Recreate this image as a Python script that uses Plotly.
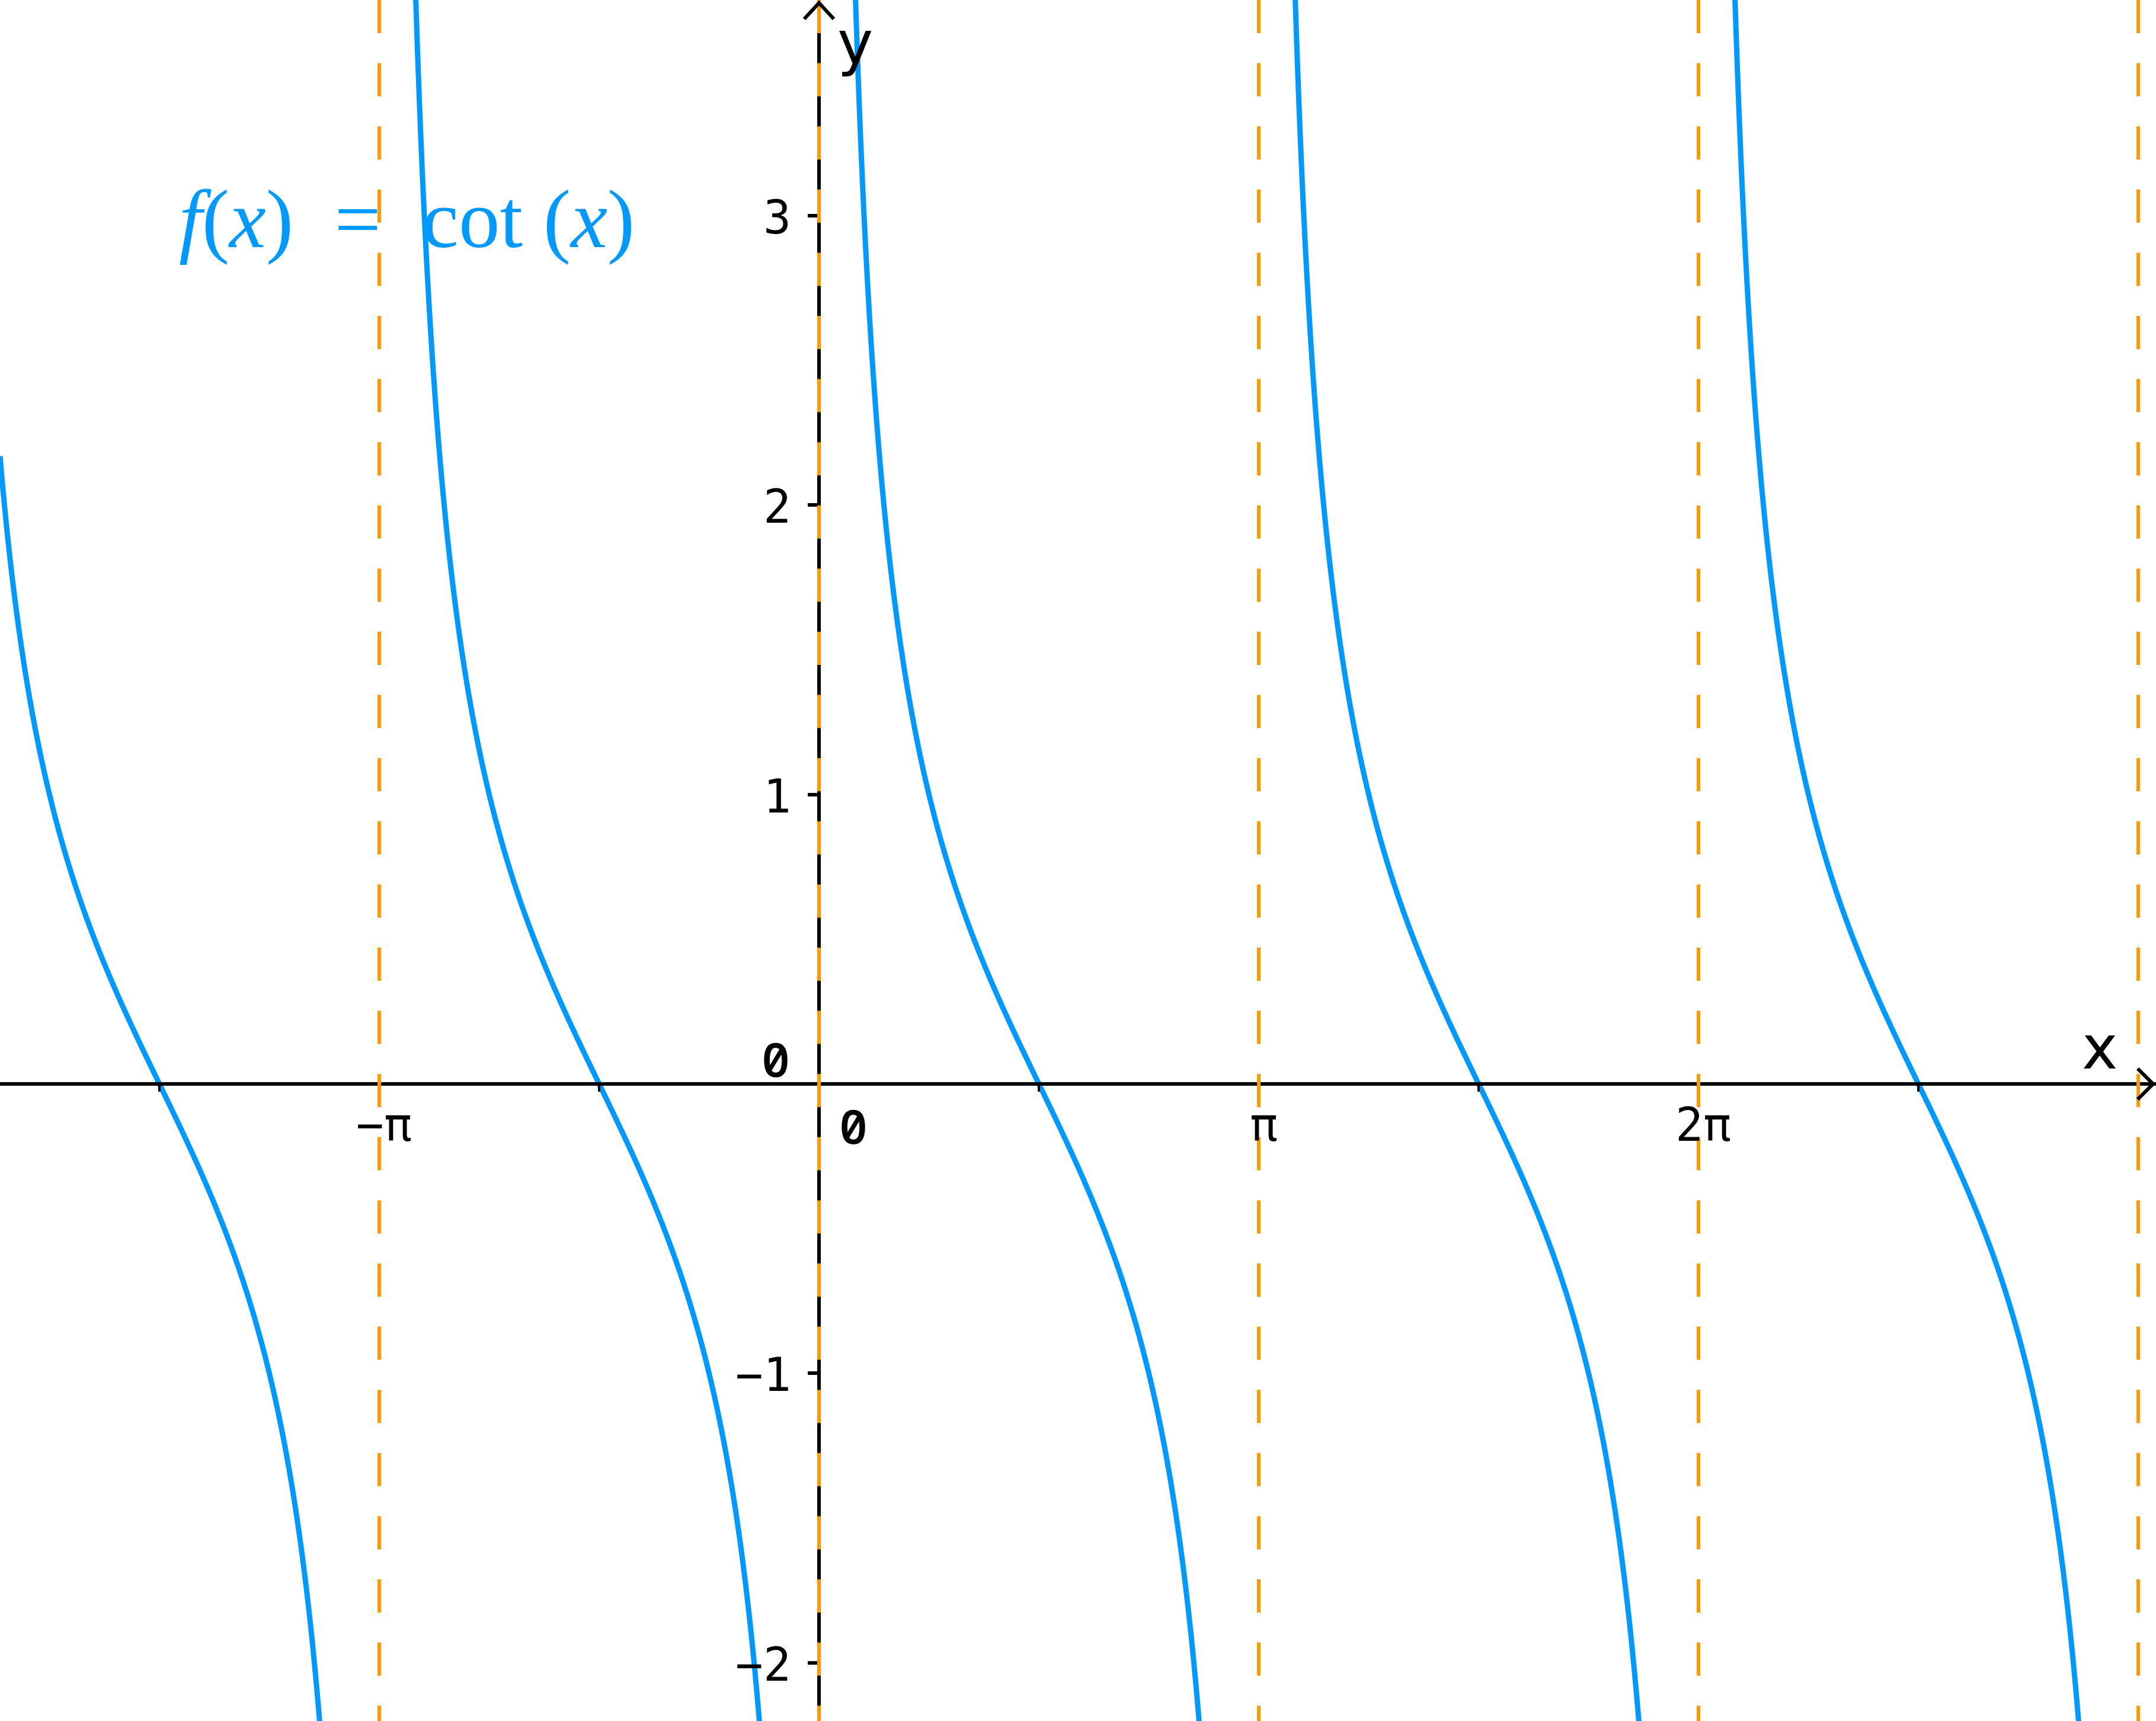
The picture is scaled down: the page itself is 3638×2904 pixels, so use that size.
import numpy as np
import plotly.graph_objects as go

PI = np.pi

# ---- chart values ----
X_MIN, X_MAX = -1.8625 * PI, 3.0404 * PI
Y_MIN, Y_MAX = -2.201, 3.745
ASYMPTOTE_K = [-1, 0, 1, 2, 3]          # vertical asymptotes at x = k*pi
X_TICK_HALF_K = [-3, -2, -1, 0, 1, 2, 3, 4, 5, 6]   # x ticks at k*pi/2
X_LABEL_K = [-1, 1, 2]
X_LABEL_TEXT = ["\u2212\u03c0", "\u03c0", "2\u03c0"]
Y_TICKS = [-2, -1, 1, 2, 3]
Y_TICK_TEXT = ["\u22122", "\u22121", "1", "2", "3"]
ZERO_TEXT = "0"
FUNC_LABEL = "<i>f</i>(<i>x</i>)\u00a0\u00a0=\u00a0\u00a0cot\u00a0(<i>x</i>)"

W, H = 3638, 2904
BLUE = "#0099ff"
ORANGE = "#ff9900"

# ---- the function f(x) = cot(x), drawn branch by branch ----
xs, ys = [], []
eps = 1e-3
for k in range(-2, 4):
    a = max(k * PI + eps, X_MIN)
    b = min((k + 1) * PI - eps, X_MAX)
    if a >= b:
        continue
    x = np.linspace(a, b, 3000)
    y = 1.0 / np.tan(x)
    xs.extend(x.tolist() + [None])
    ys.extend(y.tolist() + [None])

fig = go.Figure()
fig.add_trace(go.Scatter(x=xs, y=ys, mode="lines",
                         line=dict(color=BLUE, width=9, simplify=False),
                         hoverinfo="skip", showlegend=False))

# asymptotes
for k in ASYMPTOTE_K:
    fig.add_shape(type="line", xref="x", yref="y", x0=k * PI, x1=k * PI,
                  y0=Y_MAX, y1=Y_MIN, layer="above",
                  line=dict(color=ORANGE, width=6, dash="56px,50.6px"))

# arrow heads at axis ends
fig.add_shape(type="path", xref="x", yref="y", xsizemode="pixel", ysizemode="pixel",
              xanchor=X_MAX, yanchor=0, path="M -31,26 L -5,0 L -31,-26",
              line=dict(color="black", width=6), layer="above")
fig.add_shape(type="path", xref="x", yref="y", xsizemode="pixel", ysizemode="pixel",
              xanchor=0, yanchor=Y_MAX, path="M -25,-32 L 0,-5 L 25,-32",
              line=dict(color="black", width=6), layer="above")

tick_font = dict(family="DejaVu Sans Mono", size=78, color="black")
zero_font = dict(family="Noto Sans Mono, DejaVu Sans Mono", size=80, color="black", weight=600)
ann = []
for k, t in zip(X_LABEL_K, X_LABEL_TEXT):
    ann.append(dict(x=k * PI, y=0, xref="x", yref="y", text=t, showarrow=False,
                    xanchor="center", yanchor="middle", xshift=8, yshift=-69, font=tick_font))
ann.append(dict(x=0, y=0, xref="x", yref="y", text=ZERO_TEXT, showarrow=False,
                xanchor="center", yanchor="middle", xshift=58, yshift=-69, font=zero_font))
for v, t in zip(Y_TICKS, Y_TICK_TEXT):
    ann.append(dict(x=0, y=v, xref="x", yref="y", text=t, showarrow=False,
                    xanchor="right", yanchor="middle", xshift=-45, yshift=-3, font=tick_font))
ann.append(dict(x=0, y=0, xref="x", yref="y", text=ZERO_TEXT, showarrow=False,
                xanchor="right", yanchor="middle", xshift=-47, yshift=44, font=zero_font))
axis_font = dict(family="DejaVu Sans", size=102, color="black")
ann.append(dict(x=X_MAX, y=0, xref="x", yref="y", text="x", showarrow=False,
                xanchor="center", yanchor="middle", xshift=-95, yshift=62, font=axis_font))
ann.append(dict(x=0, y=Y_MAX, xref="x", yref="y", text="y", showarrow=False,
                xanchor="center", yanchor="middle", xshift=61, yshift=-72, font=axis_font))
ann.append(dict(x=300 / W, y=1 - 370 / H, xref="paper", yref="paper", text=FUNC_LABEL,
                showarrow=False, xanchor="left", yanchor="middle",
                font=dict(family="Liberation Serif", size=139, color=BLUE)))

fig.update_layout(
    width=W, height=H, autosize=False,
    margin=dict(l=0, r=0, t=0, b=0, pad=0),
    paper_bgcolor="white", plot_bgcolor="white",
    showlegend=False,
    annotations=ann,
    xaxis=dict(range=[X_MIN, X_MAX], showgrid=False, zeroline=False,
               showline=True, linecolor="black", linewidth=6,
               anchor="free", position=(0 - Y_MIN) / (Y_MAX - Y_MIN),
               ticks="outside", tickvals=[k * PI / 2 for k in X_TICK_HALF_K],
               ticklen=10, tickwidth=4, tickcolor="black", showticklabels=False),
    yaxis=dict(range=[Y_MIN, Y_MAX], showgrid=False, zeroline=False,
               showline=True, linecolor="black", linewidth=6,
               anchor="free", position=(0 - X_MIN) / (X_MAX - X_MIN),
               ticks="outside", tickvals=Y_TICKS,
               ticklen=16, tickwidth=6, tickcolor="black", showticklabels=False),
)

fig.write_html("out.html", config={"displayModeBar": False},
               post_script="document.body.style.margin='0';document.body.style.overflow='hidden';")
